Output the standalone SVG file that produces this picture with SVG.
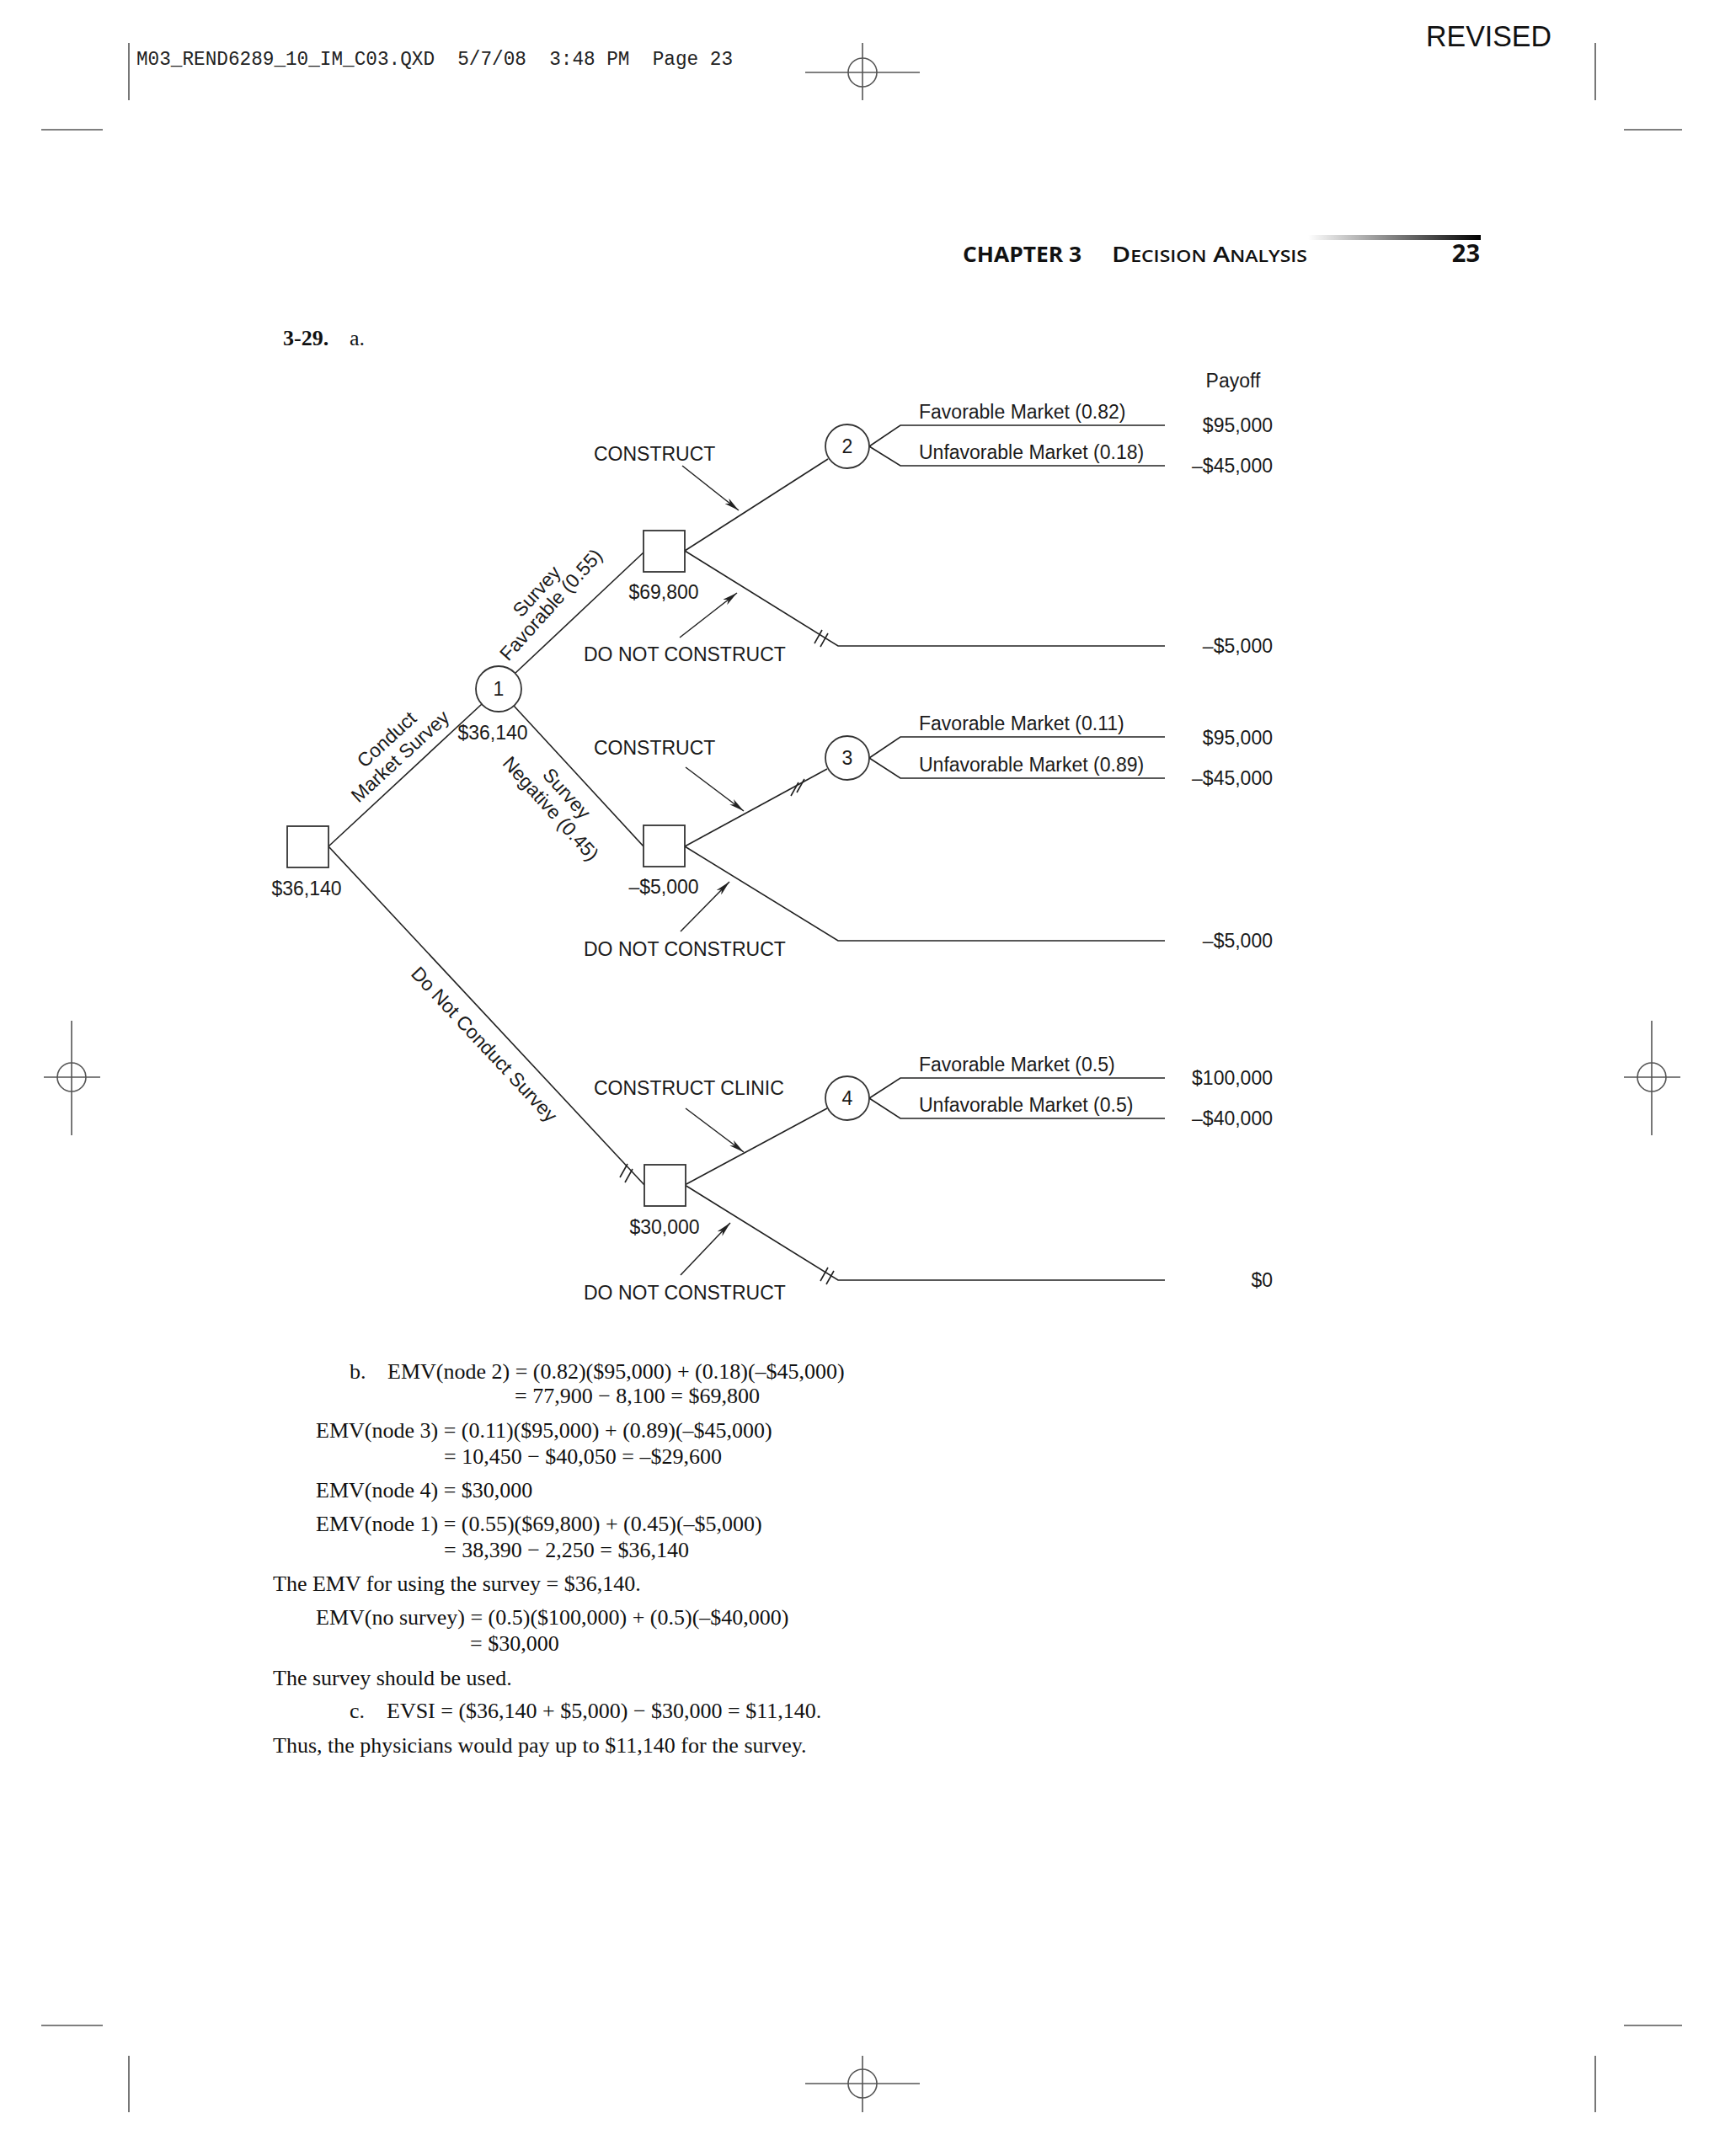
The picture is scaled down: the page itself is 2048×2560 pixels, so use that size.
<svg xmlns="http://www.w3.org/2000/svg" width="2048" height="2560" viewBox="0 0 2048 2560">
<style>
.t{font-family:"Liberation Sans",Arial,sans-serif;font-size:23px;fill:#1a1a1a}
.m{text-anchor:middle}
.e{text-anchor:end}
.s{font-family:"Liberation Serif","Times New Roman",serif;font-size:26px;fill:#111}
.ln{stroke:#222;stroke-width:1.6;fill:none}
.node{fill:#fff;stroke:#333;stroke-width:1.8}
.crop{stroke:#555;stroke-width:1.6;fill:none}
.ar{stroke:#222;stroke-width:1.5;fill:none;marker-end:url(#ah)}
</style>
<defs>
<marker id="ah" viewBox="0 0 18 8" refX="18" refY="4" markerWidth="18" markerHeight="8" orient="auto" markerUnits="userSpaceOnUse">
<path d="M0,0 L18,4 L0,8 L5,4 z" fill="#222"/>
</marker>
<linearGradient id="bar" x1="0" x2="1" y1="0" y2="0">
<stop offset="0" stop-color="#fff"/>
<stop offset="1" stop-color="#000"/>
</linearGradient>
</defs>
<rect width="2048" height="2560" fill="#fff"/>

<!-- crop marks -->
<g id="cropmarks" class="crop">
<line x1="153" y1="51" x2="153" y2="119"/>
<line x1="1894" y1="51" x2="1894" y2="119"/>
<line x1="49" y1="154" x2="122" y2="154"/>
<line x1="1928" y1="154" x2="1997" y2="154"/>
<circle cx="1024" cy="86" r="17"/>
<line x1="956" y1="86" x2="1092" y2="86"/>
<line x1="1024" y1="51" x2="1024" y2="119"/>
<circle cx="85" cy="1279" r="17"/>
<line x1="52" y1="1279" x2="119" y2="1279"/>
<line x1="85" y1="1212" x2="85" y2="1348"/>
<circle cx="1961" cy="1279" r="17"/>
<line x1="1928" y1="1279" x2="1995" y2="1279"/>
<line x1="1961" y1="1212" x2="1961" y2="1348"/>
<line x1="49" y1="2405" x2="122" y2="2405"/>
<line x1="1928" y1="2405" x2="1997" y2="2405"/>
<line x1="153" y1="2441" x2="153" y2="2508"/>
<line x1="1894" y1="2441" x2="1894" y2="2508"/>
<circle cx="1024" cy="2474" r="17"/>
<line x1="956" y1="2474" x2="1092" y2="2474"/>
<line x1="1024" y1="2441" x2="1024" y2="2508"/>
</g>

<g id="header">
<text x="162" y="77" font-family="'Liberation Mono','Courier New',monospace" font-size="23" fill="#222" textLength="708" lengthAdjust="spacingAndGlyphs" xml:space="preserve">M03_REND6289_10_IM_C03.QXD  5/7/08  3:48 PM  Page 23</text>
<text x="1693" y="55" font-family="'Liberation Sans',Arial,sans-serif" font-size="35" fill="#111" textLength="149" lengthAdjust="spacingAndGlyphs">REVISED</text>
<rect x="1553" y="279" width="205" height="6" fill="url(#bar)"/>
<text x="1143" y="311" font-family="'Open Sans','Liberation Sans',sans-serif" font-weight="bold" font-size="25" fill="#111" textLength="141" lengthAdjust="spacingAndGlyphs">CHAPTER 3</text>
<text x="1320" y="311" font-family="'Open Sans','Liberation Sans',sans-serif" font-weight="600" font-size="25" fill="#111" textLength="232" lengthAdjust="spacingAndGlyphs">D<tspan font-size="19">ECISION</tspan> A<tspan font-size="19">NALYSIS</tspan></text>
<text x="1757" y="311" text-anchor="end" font-family="'Open Sans','Liberation Sans',sans-serif" font-weight="bold" font-size="29" fill="#111">23</text>
<text x="336" y="410" class="s" font-weight="bold">3-29.</text>
<text x="415" y="410" class="s">a.</text>
</g>

<!-- connectors -->
<g id="connectors" class="ln">
<line x1="390" y1="1005" x2="572" y2="836"/>
<line x1="390" y1="1005" x2="765" y2="1407"/>
<line x1="612" y1="799" x2="764" y2="656"/>
<line x1="610" y1="838" x2="764" y2="1005"/>
<line x1="813" y1="654" x2="983" y2="545"/>
<polyline points="813,654 995,767 1383,767"/>
<line x1="813" y1="1005" x2="982" y2="913"/>
<polyline points="813,1005 995,1117 1383,1117"/>
<line x1="813" y1="1407" x2="982" y2="1316"/>
<polyline points="813,1407 995,1520 1383,1520"/>
<polyline points="1032,530 1069,505 1383,505"/>
<polyline points="1032,530 1069,553 1383,553"/>
<polyline points="1032,900 1069,875 1383,875"/>
<polyline points="1032,900 1069,924 1383,924"/>
<polyline points="1032,1304 1069,1280 1383,1280"/>
<polyline points="1032,1304 1069,1328 1383,1328"/>
<!-- tick marks -->
<path d="M967,764 L976,748 M974,768 L983,752"/>
<path d="M939,945 L948,929 M946,941 L955,925"/>
<path d="M736,1398 L745,1382 M742,1404 L751,1388"/>
<path d="M974,1521 L983,1505 M981,1525 L990,1509"/>
<!-- arrows -->
<line class="ar" x1="810" y1="553" x2="877" y2="606"/>
<line class="ar" x1="807" y1="757" x2="875" y2="704"/>
<line class="ar" x1="814" y1="911" x2="883" y2="963"/>
<line class="ar" x1="808" y1="1106" x2="866" y2="1047"/>
<line class="ar" x1="814" y1="1316" x2="883" y2="1368"/>
<line class="ar" x1="808" y1="1514" x2="867" y2="1452"/>
</g>

<g id="node0">
<rect class="node" x="341" y="981" width="49" height="49"/>
<text class="t m" x="364" y="1063">$36,140</text>
</g>
<g id="node1">
<circle class="node" cx="592" cy="818" r="27"/>
<text class="t m" x="592" y="826">1</text>
<text class="t m" x="585" y="878">$36,140</text>
</g>
<g id="decA">
<rect class="node" x="764" y="630" width="49" height="49"/>
<text class="t m" x="788" y="711">$69,800</text>
</g>
<g id="decB">
<rect class="node" x="764" y="980" width="49" height="49"/>
<text class="t m" x="788" y="1061">–$5,000</text>
</g>
<g id="decC">
<rect class="node" x="765" y="1383" width="49" height="49"/>
<text class="t m" x="789" y="1465">$30,000</text>
</g>
<g id="node2">
<circle class="node" cx="1006" cy="530" r="26"/>
<text class="t m" x="1006" y="538">2</text>
</g>
<g id="node3">
<circle class="node" cx="1006" cy="900" r="26"/>
<text class="t m" x="1006" y="908">3</text>
</g>
<g id="node4">
<circle class="node" cx="1006" cy="1304" r="26"/>
<text class="t m" x="1006" y="1312">4</text>
</g>

<g id="branch-labels">
<text class="t m" transform="translate(459,878) rotate(-42.5)" x="0" y="8">Conduct</text>
<text class="t m" transform="translate(475,898) rotate(-42.5)" x="0" y="8">Market Survey</text>
<text class="t m" transform="translate(637,702) rotate(-48)" x="0" y="8">Survey</text>
<text class="t m" transform="translate(654,718) rotate(-48)" x="0" y="8">Favorable (0.55)</text>
<text class="t m" transform="translate(673,942) rotate(48)" x="0" y="8">Survey</text>
<text class="t m" transform="translate(654,960) rotate(48)" x="0" y="8">Negative (0.45)</text>
<text class="t m" transform="translate(575,1240) rotate(47)" x="0" y="8">Do Not Conduct Survey</text>
<text class="t" x="705" y="547">CONSTRUCT</text>
<text class="t" x="693" y="785">DO NOT CONSTRUCT</text>
<text class="t" x="705" y="896">CONSTRUCT</text>
<text class="t" x="693" y="1135">DO NOT CONSTRUCT</text>
<text class="t" x="705" y="1300">CONSTRUCT CLINIC</text>
<text class="t" x="693" y="1543">DO NOT CONSTRUCT</text>
<text class="t" x="1091" y="497">Favorable Market (0.82)</text>
<text class="t" x="1091" y="545">Unfavorable Market (0.18)</text>
<text class="t" x="1091" y="867">Favorable Market (0.11)</text>
<text class="t" x="1091" y="916">Unfavorable Market (0.89)</text>
<text class="t" x="1091" y="1272">Favorable Market (0.5)</text>
<text class="t" x="1091" y="1320">Unfavorable Market (0.5)</text>
</g>

<g id="payoffs">
<text class="t m" x="1464" y="460">Payoff</text>
<text class="t e" x="1511" y="513">$95,000</text>
<text class="t e" x="1511" y="561">–$45,000</text>
<text class="t e" x="1511" y="775">–$5,000</text>
<text class="t e" x="1511" y="884">$95,000</text>
<text class="t e" x="1511" y="932">–$45,000</text>
<text class="t e" x="1511" y="1125">–$5,000</text>
<text class="t e" x="1511" y="1288">$100,000</text>
<text class="t e" x="1511" y="1336">–$40,000</text>
<text class="t e" x="1511" y="1528">$0</text>
</g>

<g id="solution">
<text class="s" x="415" y="1637">b.</text>
<text class="s" x="460" y="1637">EMV(node 2) = (0.82)($95,000) + (0.18)(–$45,000)</text>
<text class="s" x="611" y="1666">= 77,900 − 8,100 = $69,800</text>
<text class="s" x="375" y="1707">EMV(node 3) = (0.11)($95,000) + (0.89)(–$45,000)</text>
<text class="s" x="527" y="1738">= 10,450 − $40,050 = –$29,600</text>
<text class="s" x="375" y="1778">EMV(node 4) = $30,000</text>
<text class="s" x="375" y="1818">EMV(node 1) = (0.55)($69,800) + (0.45)(–$5,000)</text>
<text class="s" x="527" y="1849">= 38,390 − 2,250 = $36,140</text>
<text class="s" x="324" y="1889">The EMV for using the survey = $36,140.</text>
<text class="s" x="375" y="1929">EMV(no survey) = (0.5)($100,000) + (0.5)(–$40,000)</text>
<text class="s" x="558" y="1960">= $30,000</text>
<text class="s" x="324" y="2001">The survey should be used.</text>
<text class="s" x="415" y="2040">c.</text>
<text class="s" x="459" y="2040">EVSI = ($36,140 + $5,000) − $30,000 = $11,140.</text>
<text class="s" x="324" y="2081">Thus, the physicians would pay up to $11,140 for the survey.</text>
</g>
</svg>
